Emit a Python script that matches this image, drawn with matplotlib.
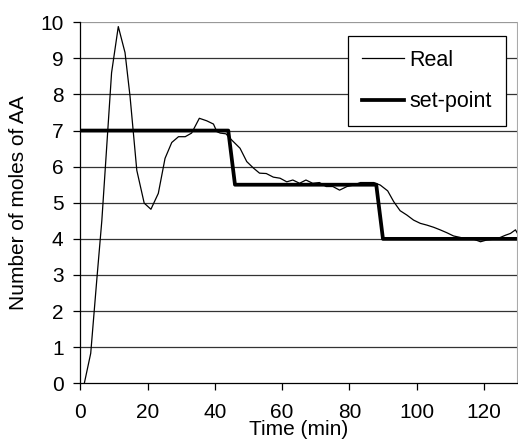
import matplotlib
matplotlib.use('Agg')
import matplotlib.pyplot as plt

plt.rcParams['font.family'] = ['Liberation Sans', 'DejaVu Sans']

real_t = [1.2, 3.1, 4.9, 6.4, 7.5, 9.3, 11.3, 13.3, 14.8, 16.8, 19.0, 21.0, 23.2,
          25.2, 27.2, 29.2, 31.2, 33.1, 35.4, 37.6, 39.6, 40.6, 41.6, 43.3, 45.0,
          47.5, 49.5, 51.5, 53.3, 55.3, 57.4, 59.4, 61.4, 63.2, 65.2, 67.1, 69.1,
          71.1, 73.1, 75.1, 77.1, 79.3, 81.3, 83.3, 85.3, 87.3, 89.2, 91.4, 93.2,
          95.1, 97.1, 99.1, 101.1, 103.1, 105.1, 107.0, 109.0, 111.0, 113.0, 115.0,
          117.0, 119.0, 120.9, 122.9, 124.9, 126.4, 127.9, 129.4, 130.0]
real_y = [0.0, 0.83, 2.86, 4.5, 6.05, 8.6, 9.88, 9.16, 7.94, 5.9, 4.99, 4.82, 5.26,
          6.23, 6.67, 6.83, 6.83, 6.93, 7.34, 7.27, 7.18, 6.97, 6.93, 6.91, 6.74,
          6.51, 6.14, 5.96, 5.82, 5.81, 5.71, 5.68, 5.58, 5.63, 5.54, 5.63, 5.54,
          5.56, 5.45, 5.45, 5.35, 5.45, 5.49, 5.56, 5.56, 5.56, 5.49, 5.33, 5.03,
          4.78, 4.66, 4.52, 4.43, 4.38, 4.32, 4.25, 4.17, 4.08, 4.04, 3.99,
          3.99, 3.92, 3.97, 3.99, 4.04, 4.1, 4.15, 4.25, 4.15]

# set-point profile
sp_t = [0, 44, 46, 88, 90, 130]
sp_y = [7, 7, 5.5, 5.5, 4, 4]

x_ticks = [0, 20, 40, 60, 80, 100, 120]
y_ticks = list(range(0, 11))

FS = 15

fig = plt.figure(figsize=(5.18, 4.45), dpi=100)
ax = fig.add_axes([0.155, 0.1387, 0.844, 0.8113])

for yv in y_ticks[1:]:
    ax.axhline(yv, color='#333333' if yv < 10 else '#999999', lw=0.9, zorder=1)

ax.plot(real_t, real_y, color='black', lw=0.9, label='Real', zorder=3)
ax.plot(sp_t, sp_y, color='black', lw=2.7, label='set-point', zorder=2)

ax.set_xlim(0, 130)
ax.set_ylim(0, 10)
ax.set_xticks(x_ticks)
ax.set_yticks(y_ticks)
ax.tick_params(direction='out', length=5, width=0.9, labelsize=FS, color='black')
ax.tick_params(axis='x', pad=9)
ax.tick_params(axis='y', pad=7)

ax.spines['top'].set_visible(False)
ax.spines['right'].set_color('#aaaaaa')
ax.spines['left'].set_linewidth(0.9)
ax.spines['bottom'].set_linewidth(0.9)

ax.set_xlabel('Time (min)', fontsize=FS, labelpad=-1)
ax.set_ylabel('Number of moles of AA', fontsize=FS, labelpad=9)

leg = ax.legend(loc='upper left', bbox_to_anchor=(0.612, 0.962), fontsize=15.5,
                frameon=True, fancybox=False, framealpha=1, edgecolor='black',
                handlelength=1.95, handletextpad=0.25, borderpad=0.65,
                labelspacing=0.95, borderaxespad=0)
leg.get_frame().set_linewidth(0.9)

fig.savefig('out.png', dpi=100)
